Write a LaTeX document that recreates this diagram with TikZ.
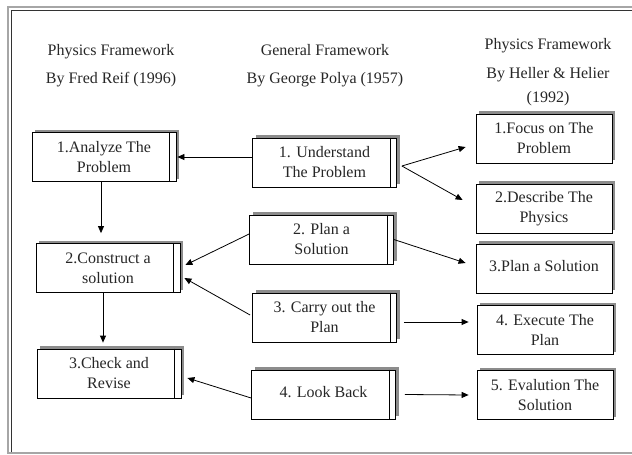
\documentclass[tikz,border=0pt]{standalone}
\usepackage{fontspec}
\setmainfont{Liberation Serif}
\usetikzlibrary{arrows.meta,shadows}

\begin{document}
\begin{tikzpicture}[x=1pt,y=1pt,
  every node/.style={font=\fontsize{16}{20}\selectfont, align=center, text=black!85},
  stepbox/.style={draw=black, line width=0.8pt, fill=white, minimum width=144pt,
    minimum height=49pt, inner sep=2pt,
    drop shadow={shadow xshift=3pt, shadow yshift=3pt, fill=black!45, opacity=1}},
  hhbox/.style={stepbox, minimum width=136pt},
  arr/.style={-{Triangle[length=7pt,width=6pt]}, line width=0.8pt}]
\useasboundingbox (0,0) rectangle (632,-455);
% outer frame
\draw [gray!70, line width=1.2pt] (8,-7) rectangle (645,-453);
\draw [black!80, line width=0.8pt] (11.5,-452) -- (11.5,-10.5) -- (645,-10.5);
% column headings
\node (hreif) at (111,-66) {Physics Framework\\[8pt] By Fred Reif (1996)};
\node (hpolya) at (325,-66) {General Framework\\[8pt] By George Polya (1957)};
\node (hheller) at (548,-72) {Physics Framework\\[9pt] By Heller \& Helier\\[4pt] (1992)};
% Reif
\node [stepbox] (L1) at (104,-157) {1.Analyze The\\ Problem};
\node [stepbox] (L2) at (108,-268) {2.Construct a\\ solution};
\node [stepbox] (L3) at (109,-373.5) {3.Check and\\ Revise};
% Polya
\node [stepbox] (M1) at (324.5,-162.5) {1. Understand\\ The Problem};
\node [stepbox] (M2) at (321.5,-239.5) {2. Plan a\\ Solution};
\node [stepbox] (M3) at (324.5,-317.5) {3. Carry out the\\ Plan};
\node [stepbox] (M4) at (323.5,-394.5) {\raisebox{5pt}{4. Look Back}};
% Heller & Heller
\node [hhbox] (R1) at (544,-138.5) {1.Focus on The\\ Problem};
\node [hhbox] (R2) at (544,-208.5) {2.Describe The\\ Physics};
\node [hhbox] (R3) at (544,-268.5) {\raisebox{6pt}{3.Plan a Solution}};
\node [hhbox] (R4) at (545,-330) {4. Execute The\\ Plan};
\node [hhbox] (R5) at (545,-395) {5. Evalution The\\ Solution};
% double right edge
\foreach \n in {L1,L2,L3,M1,M2,M3,M4}
  \draw [line width=0.8pt] ([xshift=-7pt]\n.north east) -- ([xshift=-7pt]\n.south east);
% links
\draw [arr] (M1.west |- L1.east) -- ([xshift=1pt]L1.east);
\draw [arr] ([xshift=5pt,yshift=-3.5pt]M1.east) -- ([xshift=-10pt,yshift=-8.5pt]R1.west);
\draw [arr] ([xshift=5pt,yshift=-3.5pt]M1.east) -- ([xshift=-13pt,yshift=8.5pt]R2.west);
\draw [arr] ([yshift=5.5pt]M2.west) -- ([xshift=5pt,yshift=3pt]L2.east);
\draw [arr] ([xshift=-2pt,yshift=2.5pt]M3.west) -- ([xshift=4pt,yshift=-10pt]L2.east);
\draw [arr] (M2.east) -- ([xshift=-10pt,yshift=5.5pt]R3.west);
\draw [arr] ([xshift=7pt,yshift=-4.5pt]M3.east) -- ([xshift=-8pt,yshift=8pt]R4.west);
\draw [arr] ([yshift=-3.5pt]M4.west) -- ([xshift=6pt,yshift=-4.5pt]L3.east);
\draw [arr] ([xshift=9pt]M4.east) -- ([xshift=-8pt]R5.west);
\draw [arr, shorten >=10pt] ([xshift=-3pt]L1.south) -- ([xshift=-3pt]L1.south |- L2.north);
\draw [arr, shorten >=6pt] ([xshift=-5pt]L2.south) -- ([xshift=-5pt]L2.south |- L3.north);
\end{tikzpicture}
\end{document}
